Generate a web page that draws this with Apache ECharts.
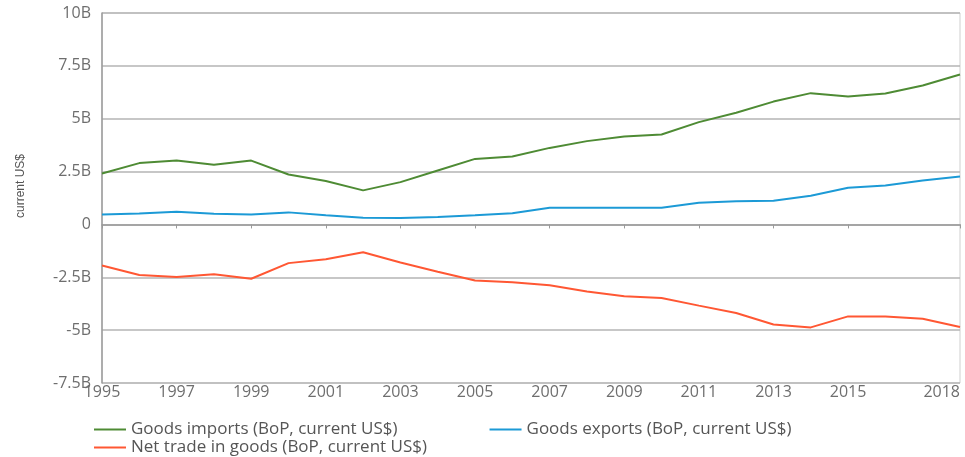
<!DOCTYPE html>
<html>
<head>
<meta charset="utf-8">
<script src="https://cdn.jsdelivr.net/npm/echarts@6/dist/echarts.min.js"></script>
<style>html,body{margin:0;padding:0;background:#fff}#c{width:965px;height:457px}</style>
</head>
<body>
<div id="c"></div>
<script>
const years = ['1995','1996','1997','1998','1999','2000','2001','2002','2003','2004','2005','2006','2007','2008','2009','2010','2011','2012','2013','2014','2015','2016','2017','2018'];
const labeledYears = ['1995','1997','1999','2001','2003','2005','2007','2009','2011','2013','2015','2018'];
const goodsImports = [2.41,2.90,3.02,2.82,3.02,2.36,2.05,1.61,2.00,2.55,3.10,3.21,3.62,3.94,4.16,4.25,4.84,5.28,5.81,6.21,6.05,6.19,6.57,7.09];
const goodsExports = [0.47,0.52,0.60,0.50,0.47,0.57,0.43,0.32,0.30,0.35,0.43,0.53,0.79,0.79,0.79,0.79,1.02,1.10,1.12,1.36,1.73,1.84,2.08,2.27];
const netTrade = [-1.94,-2.39,-2.49,-2.36,-2.57,-1.83,-1.65,-1.32,-1.80,-2.24,-2.65,-2.73,-2.88,-3.17,-3.40,-3.48,-3.84,-4.19,-4.73,-4.87,-4.35,-4.36,-4.46,-4.85];
const yTicks = {min: -7.5e9, max: 10e9, interval: 2.5e9};
const yAxisTitle = 'current US$';

const B = 1e9;
const toVals = a => a.map(v => v * B);
const showYear = (i, v) => labeledYears.indexOf(v) >= 0;
const font = '"Open Sans"';
const chart = echarts.init(document.getElementById('c'), null, {renderer: 'canvas'});
chart.setOption({
  animation: false,
  backgroundColor: '#fff',
  grid: {left: 102, right: 5, top: 13, bottom: 74, show: true, borderColor: '#cfcfcf', borderWidth: 1, containLabel: false},
  graphic: [{
    type: 'text', left: 15, top: 154, rotation: Math.PI / 2,
    style: {text: yAxisTitle, fill: '#555', font: '12px "Liberation Sans"'}
  }],
  xAxis: {
    type: 'category', data: years, boundaryGap: false,
    axisLine: {lineStyle: {color: '#9a9a9a', width: 1.5}},
    axisTick: {show: true, interval: showYear, length: 4, inside: false, lineStyle: {color: '#9a9a9a'}},
    axisLabel: {interval: showYear, color: '#6e6e6e', fontFamily: font, fontSize: 16, margin: 1, alignMaxLabel: 'right'},
    splitLine: {show: false}
  },
  yAxis: {
    type: 'value', min: yTicks.min, max: yTicks.max, interval: yTicks.interval,
    axisLine: {show: true, lineStyle: {color: '#9a9a9a', width: 1.5}},
    axisTick: {show: false},
    axisLabel: {color: '#6e6e6e', fontFamily: font, fontSize: 16, margin: 11,
      formatter: v => v === 0 ? '0' : (v / B) + 'B'},
    splitLine: {lineStyle: {color: '#b4b4b4', width: 1.5}}
  },
  legend: [
    {data: ['Goods imports (BoP, current US$)', 'Goods exports (BoP, current US$)'], left: 89, top: 416, itemWidth: 32, itemHeight: 2, itemGap: 92, icon: 'rect',
      textStyle: {color: '#555', fontFamily: font, fontSize: 17}},
    {data: ['Net trade in goods (BoP, current US$)'], left: 89, top: 434, itemWidth: 32, itemHeight: 2, icon: 'rect',
      textStyle: {color: '#555', fontFamily: font, fontSize: 17}}
  ],
  series: [
    {name: 'Goods imports (BoP, current US$)', type: 'line', data: toVals(goodsImports), symbol: 'none', lineStyle: {color: '#4e8b34', width: 2}, itemStyle: {color: '#4e8b34'}},
    {name: 'Goods exports (BoP, current US$)', type: 'line', data: toVals(goodsExports), symbol: 'none', lineStyle: {color: '#1c9ad6', width: 2}, itemStyle: {color: '#1c9ad6'}},
    {name: 'Net trade in goods (BoP, current US$)', type: 'line', data: toVals(netTrade), symbol: 'none', lineStyle: {color: '#ff5733', width: 2}, itemStyle: {color: '#ff5733'}}
  ]
});
</script>
</body>
</html>
